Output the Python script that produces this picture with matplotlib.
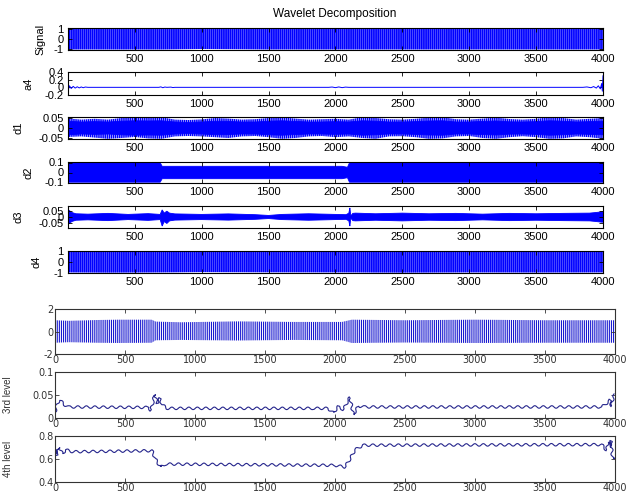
import matplotlib
matplotlib.use('Agg')
import matplotlib.pyplot as plt
import numpy as np

# ---------------- values ----------------
top_names = ['Signal', 'a4', 'd1', 'd2', 'd3', 'd4']
x_ticks_top = [500, 1000, 1500, 2000, 2500, 3000, 3500, 4000]
x_ticks_bot = [0, 500, 1000, 1500, 2000, 2500, 3000, 3500, 4000]

# envelope of the top 'Signal' row
top_sig_x = [0, 300, 700, 1000, 1500, 2100, 2500, 3000, 3500, 4000]
top_sig_hi = [1.0, 1.02, 1.0, 0.98, 1.0, 1.0, 1.02, 1.0, 1.0, 1.0]
top_sig_lo = [-1.05, -1.05, -1.05, -1.0, -1.05, -1.05, -1.05, -1.05, -1.05, -1.05]

# envelope of the analysed signal in the lower group
sig_x = [0, 100, 300, 450, 690, 720, 900, 1300, 1700, 2050, 2120, 2500, 3000, 3500, 4000]
sig_hi = [1.0, 0.95, 1.02, 1.05, 1.05, 0.88, 0.82, 0.9, 0.85, 0.85, 1.05, 1.0, 1.05, 1.0, 1.0]
sig_lo = [-1.0, -0.95, -1.0, -1.02, -1.0, -0.78, -0.75, -0.8, -0.75, -0.78, -1.02, -0.98, -1.02, -1.0, -1.0]

# approximation a4
a4_x = [0, 4, 12, 25, 40, 55, 70, 85, 100, 115, 130, 150, 680, 695, 710, 725, 740, 770, 785, 800,
        1950, 1975, 2000, 2025, 2050, 2075, 2100, 2130, 3850, 3880, 3910, 3930, 3950, 3965, 3980,
        3990, 3995, 4000]
a4_y = [0.15, -0.06, 0.04, -0.03, 0.025, -0.02, 0.015, -0.015, 0.01, -0.01, 0.008, 0, 0, 0.012,
        -0.01, 0.008, 0, 0.006, -0.006, 0, 0, 0.008, -0.008, 0.01, -0.008, 0.006, 0, 0, 0, 0.01,
        -0.01, 0.02, -0.02, 0.04, -0.04, 0.1, -0.1, 0.3]

# detail d1: solid core and spike envelope, one knot every 100 samples
d1_x = [0, 100, 200, 300, 400, 500, 600, 700, 800, 900, 1000, 1100, 1200, 1300, 1400, 1500, 1600,
        1700, 1800, 1900, 2000, 2100, 2200, 2300, 2400, 2500, 2600, 2700, 2800, 2900, 3000, 3100,
        3200, 3300, 3400, 3500, 3600, 3700, 3800, 3900, 4000]
d1_core = [0.034, 0.03, 0.032, 0.03, 0.034, 0.036, 0.035, 0.036, 0.03, 0.028, 0.03, 0.034, 0.033,
           0.03, 0.03, 0.034, 0.036, 0.033, 0.03, 0.03, 0.032, 0.03, 0.036, 0.034, 0.03, 0.03, 0.032,
           0.035, 0.036, 0.03, 0.03, 0.033, 0.035, 0.031, 0.03, 0.032, 0.036, 0.034, 0.03, 0.032, 0.034]
d1_hi = [0.048, 0.042, 0.046, 0.042, 0.05, 0.054, 0.052, 0.054, 0.042, 0.04, 0.043, 0.05, 0.047,
         0.042, 0.044, 0.05, 0.054, 0.047, 0.042, 0.044, 0.046, 0.042, 0.054, 0.05, 0.044, 0.042,
         0.046, 0.052, 0.054, 0.044, 0.042, 0.047, 0.052, 0.045, 0.042, 0.046, 0.054, 0.05, 0.042,
         0.046, 0.05]
d1_lo = [-0.045, -0.042, -0.048, -0.054, -0.05, -0.045, -0.052, -0.054, -0.042, -0.04, -0.042,
         -0.046, -0.05, -0.042, -0.04, -0.046, -0.054, -0.05, -0.042, -0.04, -0.046, -0.042, -0.05,
         -0.054, -0.042, -0.041, -0.046, -0.054, -0.052, -0.042, -0.04, -0.05, -0.054, -0.046,
         -0.041, -0.046, -0.054, -0.052, -0.042, -0.046, -0.054]

# detail d2 envelope
d2_x = [0, 690, 705, 2050, 2090, 2105, 4000]
d2_hi = [0.097, 0.097, 0.062, 0.062, 0.052, 0.097, 0.097]
d2_lo = [-0.097, -0.097, -0.062, -0.062, -0.052, -0.097, -0.097]

# detail d3 envelope
d3_x = [0, 10, 30, 60, 150, 300, 450, 600, 690, 705, 720, 740, 760, 800, 1000, 1200, 1400, 1500,
        1600, 1800, 2000, 2080, 2100, 2108, 2115, 2130, 2150, 2300, 2500, 2700, 2900, 3100, 3300,
        3500, 3700, 3900, 3950, 3990, 4000]
d3_hi = [0.06, 0.05, 0.035, 0.025, 0.022, 0.028, 0.02, 0.026, 0.02, 0.055, 0.03, 0.045, 0.03,
         0.024, 0.02, 0.024, 0.018, 0.012, 0.02, 0.025, 0.02, 0.018, 0.03, 0.07, 0.008, 0.028, 0.03,
         0.025, 0.03, 0.025, 0.028, 0.022, 0.028, 0.025, 0.028, 0.03, 0.035, 0.04, 0.04]
d3_lo = [-0.06, -0.05, -0.035, -0.025, -0.022, -0.028, -0.02, -0.026, -0.02, -0.07, -0.035,
         -0.05, -0.03, -0.024, -0.02, -0.024, -0.018, -0.012, -0.02, -0.025, -0.02, -0.018, -0.03,
         -0.07, -0.008, -0.028, -0.03, -0.025, -0.03, -0.025, -0.028, -0.022, -0.028, -0.025,
         -0.028, -0.03, -0.035, -0.04, -0.04]

# detail d4 envelope
d4_x = [0, 300, 700, 1000, 1500, 2100, 2500, 3000, 3500, 4000]
d4_hi = [0.95, 0.97, 0.95, 0.92, 0.94, 0.95, 0.97, 0.95, 0.96, 0.95]
d4_lo = [-0.95, -0.97, -0.95, -0.92, -0.94, -0.95, -0.97, -0.95, -0.96, -0.95]

# 3rd and 4th level curves
lv3_x = [0, 15, 30, 45, 65, 100, 670, 685, 700, 712, 730, 750, 765, 800, 1850, 1950, 1988, 2024,
         2060, 2095, 2107, 2131, 2167, 2214, 3905, 3929, 3964, 3976, 3988, 3998]
lv3_y = [0.012, 0.03, 0.039, 0.036, 0.029, 0.024, 0.023, 0.016, 0.035, 0.051, 0.032, 0.043, 0.029,
         0.021, 0.021, 0.021, 0.011, 0.025, 0.018, 0.039, 0.045, 0.007, 0.026, 0.024, 0.024, 0.029,
         0.039, 0.025, 0.048, 0.05]
lv4_x = [0, 10, 29, 53, 77, 126, 693, 717, 753, 790, 2000, 2071, 2107, 2143, 2200, 3905, 3940,
         3952, 3964, 3971, 3983, 3995]
lv4_y = [0.72, 0.63, 0.70, 0.645, 0.68, 0.663, 0.672, 0.60, 0.53, 0.556, 0.545, 0.53, 0.60, 0.68,
         0.72, 0.725, 0.675, 0.75, 0.70, 0.76, 0.60, 0.60]

# ---------------- drawing ----------------
W, H = 635, 493
blue = '#0000ff'
navy = '#25258c'
plt.rcParams['hatch.linewidth'] = 1.2


def px_axes(left, top, right, bottom):
    return fig.add_axes([left / W, 1 - bottom / H, (right - left) / W, (bottom - top) / H])


def band(ax, x, hi, lo, **kw):
    x = np.asarray(x, float)
    xs = np.concatenate([x, x[::-1]])
    ys = np.concatenate([np.asarray(hi, float), np.asarray(lo, float)[::-1]])
    return ax.fill(xs, ys, **kw)[0]


def hatched(ax, x, hi, lo, color, hlw):
    p = band(ax, x, hi, lo, facecolor='none', edgecolor=color, hatch='||||||||', linewidth=0)
    if hasattr(p, 'set_hatch_linewidth'):
        p.set_hatch_linewidth(hlw)
    return p


def style(ax, family, size, color, pad):
    ax.tick_params(direction='in', top=True, right=True, length=3, width=0.6,
                   labelsize=size, colors=color, pad=pad)
    for lab in ax.get_xticklabels() + ax.get_yticklabels():
        lab.set_family(family)
    for s in ax.spines.values():
        s.set_color(color)
        s.set_linewidth(0.8)


fig = plt.figure(figsize=(W / 100, H / 100), dpi=100)
fig.text(335 / W, 1 - 14 / H, 'Wavelet Decomposition', ha='center', va='center',
         family='Liberation Sans', fontsize=8.5)

top_px = [(28, 50), (72, 95), (117, 139), (162, 183), (206, 228), (251, 273)]
top_ylims = [(-1.1, 1.05), (-0.2, 0.4), (-0.055, 0.055), (-0.105, 0.105), (-0.085, 0.085), (-1.0, 1.0)]
top_yticks = [[-1, 0, 1], [-0.2, 0, 0.2, 0.4], [-0.05, 0, 0.05], [-0.1, 0, 0.1], [-0.05, 0, 0.05], [-1, 0, 1]]
top_ylabels = [['-1', '0', '1'], ['-0.2', '0', '0.2', '0.4'], ['-0.05', '0', '0.05'],
               ['-0.1', '0', '0.1'], ['-0.05', '0', '0.05'], ['-1', '0', '1']]
top_label_x = [45, 33, 24, 34, 24, 42]

for i, name in enumerate(top_names):
    t, b = top_px[i]
    ax = px_axes(68, t, 603, b)
    if name == 'Signal':
        hatched(ax, top_sig_x, top_sig_hi, top_sig_lo, blue, 1.3)
    elif name == 'd4':
        hatched(ax, d4_x, d4_hi, d4_lo, blue, 1.3)
    elif name == 'a4':
        ax.plot(a4_x, a4_y, color=blue, lw=0.7)
    elif name == 'd1':
        band(ax, d1_x, d1_core, [-v for v in d1_core], facecolor=blue, edgecolor=blue, linewidth=0.6)
        hatched(ax, d1_x, d1_hi, d1_lo, blue, 1.1)
    else:
        ex, eh, el = (d2_x, d2_hi, d2_lo) if name == 'd2' else (d3_x, d3_hi, d3_lo)
        p = band(ax, ex, eh, el, facecolor=blue, edgecolor=blue, linewidth=0.6)
        p.set_sketch_params(scale=1.2, length=2.0, randomness=1)
    ax.set_xlim(1, 4000)
    ax.set_ylim(*top_ylims[i])
    ax.set_xticks(x_ticks_top)
    ax.set_xticklabels([str(v) for v in x_ticks_top])
    ax.set_yticks(top_yticks[i])
    ax.set_yticklabels(top_ylabels[i])
    style(ax, 'Liberation Sans', 8, 'black', 3)
    ax.set_ylabel(name, family='Liberation Sans', fontsize=8)
    ax.yaxis.set_label_coords((top_label_x[i] - 68) / (603 - 68), 0.5)

# lower group: signal, 3rd level, 4th level
bot_px = [(309, 354), (372, 418), (436, 482)]
bot_ylims = [(-2, 2), (0, 0.1), (0.4, 0.8)]
bot_yticks = [[-2, 0, 2], [0, 0.05, 0.1], [0.4, 0.6, 0.8]]
bot_ylabels = [['-2', '0', '2'], ['0', '0.05', '0.1'], ['0.4', '0.6', '0.8']]
bot_names = ['', '3rd level', '4th level']

for i in range(3):
    t, b = bot_px[i]
    ax = px_axes(55, t, 615, b)
    if i == 0:
        hatched(ax, sig_x, sig_hi, sig_lo, '#1a1ad0', 0.8)
    else:
        xs, ys = (lv3_x, lv3_y) if i == 1 else (lv4_x, lv4_y)
        ln, = ax.plot(xs, ys, color=navy, lw=0.8)
        ln.set_sketch_params(scale=1.3, length=8.5, randomness=1)
    ax.set_xlim(0, 4000)
    ax.set_ylim(*bot_ylims[i])
    ax.set_xticks(x_ticks_bot)
    ax.set_xticklabels([str(v) for v in x_ticks_bot])
    ax.set_yticks(bot_yticks[i])
    ax.set_yticklabels(bot_ylabels[i])
    style(ax, 'DejaVu Sans', 7, '#333333', 1)
    if bot_names[i]:
        ax.set_ylabel(bot_names[i], family='Liberation Sans', fontsize=7, color='#333333')
        ax.yaxis.set_label_coords((13 - 55) / 560, 0.5)

fig.savefig('out.png', dpi=100)
